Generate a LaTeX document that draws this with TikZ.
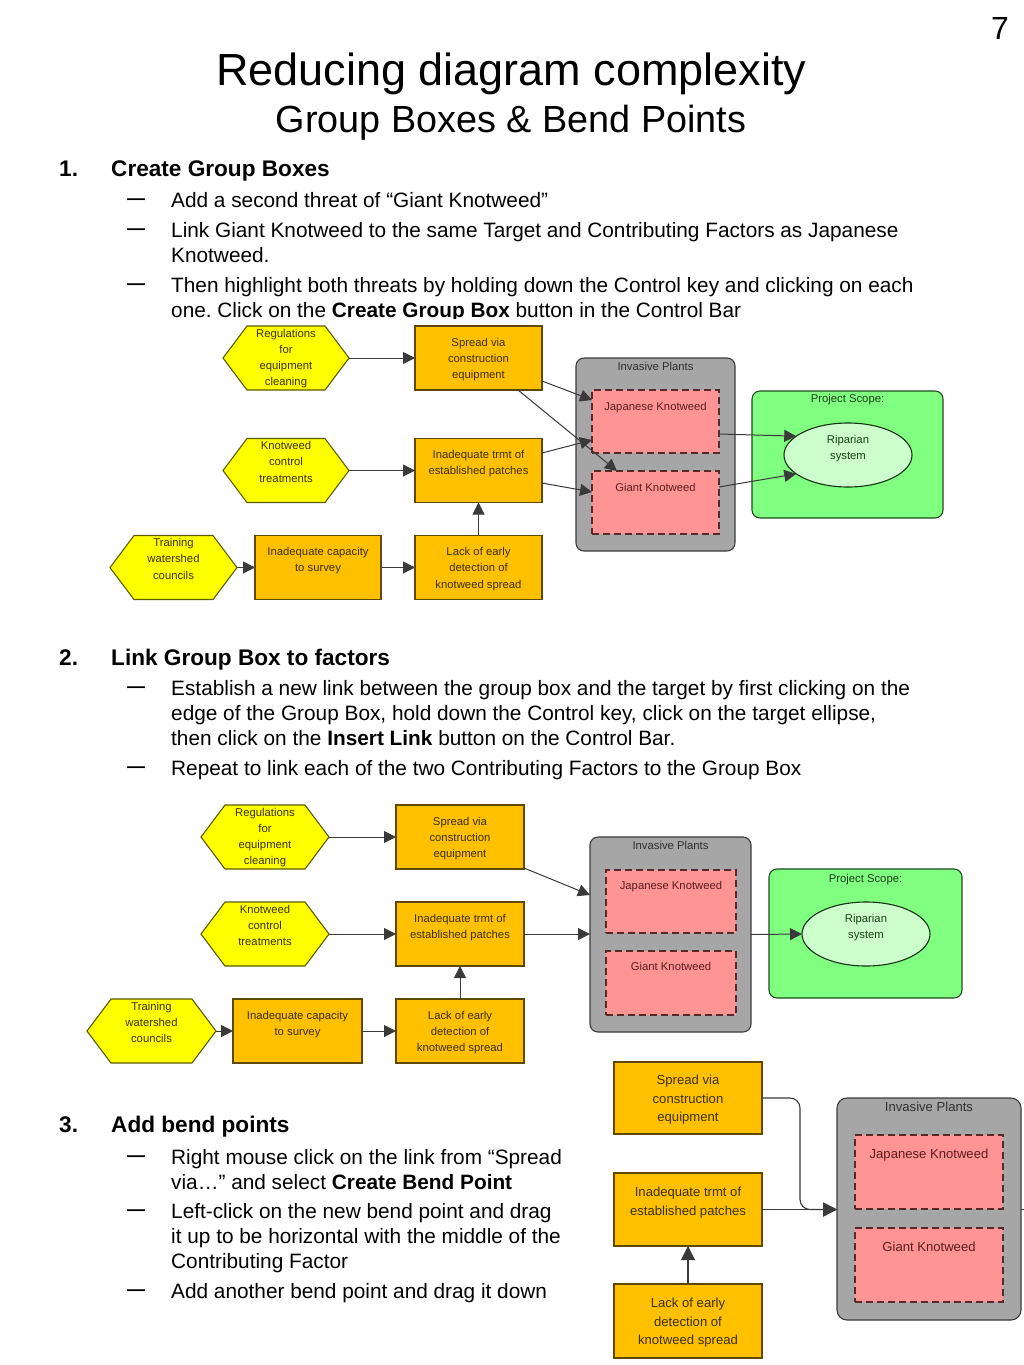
\documentclass[tikz,border=0pt]{standalone}
\usepackage{fontspec}
\setmainfont{Liberation Sans}
\usetikzlibrary{calc,arrows.meta,shapes.geometric}
\frenchspacing
\definecolor{hexfill}{HTML}{FFFF00}
\definecolor{hexline}{HTML}{5C5C00}
\definecolor{cffill}{HTML}{FFC000}
\definecolor{cfline}{HTML}{5F4800}
\definecolor{grpfill}{HTML}{A6A6A6}
\definecolor{grpline}{HTML}{3C3C3C}
\definecolor{thrfill}{HTML}{FF9494}
\definecolor{thrline}{HTML}{5A2828}
\definecolor{scfill}{HTML}{80FF80}
\definecolor{scline}{HTML}{1E4A1E}
\definecolor{ripfill}{HTML}{CCFFCC}
\definecolor{ripline}{HTML}{143214}
\definecolor{lnk}{HTML}{3A3A3A}
\definecolor{dtext}{HTML}{3B3000}
\definecolor{gtext}{HTML}{303030}
\definecolor{rtext}{HTML}{5A1E1E}
\definecolor{stext}{HTML}{1E3D1E}
\tikzset{
  hexshape/.style={fill=hexfill, draw=hexline, line width=1.1pt},
  hexbox/.style={draw=none, minimum height=64, inner sep=0pt, outer sep=0pt},
  cfbox/.style={rectangle, fill=cffill, draw=cfline, line width=1.1pt, inner sep=0pt, outer sep=0pt},
  grpbox/.style={rectangle, fill=grpfill, draw=grpline, line width=1.1pt, rounded corners=8pt, inner sep=0pt, outer sep=0pt},
  thrbox/.style={rectangle, fill=thrfill, draw=thrline, line width=1.1pt, dash pattern=on 7pt off 4pt, inner sep=0pt, outer sep=0pt},
  scbox/.style={rectangle, fill=scfill, draw=scline, line width=1.1pt, rounded corners=8pt, inner sep=0pt, outer sep=0pt},
  ripell/.style={ellipse, fill=ripfill, draw=ripline, line width=1.1pt, inner sep=0pt, outer sep=0pt},
  dl/.style={anchor=north, inner sep=0pt, align=center, text=dtext, font=\fontsize{11.3}{16.3}\selectfont},
  dlb/.style={anchor=north, inner sep=0pt, align=center, text=dtext, font=\fontsize{13.1}{18.5}\selectfont},
  lnkarrow/.style={draw=lnk, line width=1pt, -{Triangle[length=12pt,width=12pt]}},
  lnkbig/.style={draw=lnk, line width=1.1pt, -{Triangle[length=14pt,width=14pt]}},
  lnkplain/.style={draw=lnk, line width=1.1pt},
  body/.style={anchor=base west, inner sep=0pt, font=\fontsize{20.8}{25}\selectfont},
  hd/.style={anchor=base west, inner sep=0pt, font=\bfseries\fontsize{22.6}{26}\selectfont},
  dashmark/.style={anchor=base west, inner sep=0pt, font=\bfseries\fontsize{18}{20}\selectfont},
}
\newcommand{\hexagonnode}[4]{%
  \draw[hexshape] ($#2+(-#3/2,0)$) -- ++(24,-32) -- ++(#3-48,0) -- ++(24,32) -- ++(-24,32) -- ++(-#3+48,0) -- cycle;
  \node[hexbox, minimum width=#3, label={[dl,yshift=-2.7pt]north:{#4}}] (#1) at #2 {};
}
\begin{document}
\begin{tikzpicture}[x=1pt,y=-1pt]
\useasboundingbox (0,0) rectangle (1024,1365);
\fill[white] (0,0) rectangle (1024,1365);

% ---------- titles ----------
\node[anchor=base east, inner sep=0pt, font=\fontsize{32}{36}\selectfont] (pagenum) at (1009,39) {7};
\node[anchor=base, inner sep=0pt, font=\fontsize{45}{50}\selectfont] (title) at (511.5,85) {Reducing diagram complexity};
\node[anchor=base, inner sep=0pt, font=\fontsize{37.8}{42}\selectfont] (subtitle) at (511,132) {Group Boxes \& Bend Points};

% ---------- section 1 text ----------
\node[hd] (n1) at (59,176) {1.};
\node[hd] (h1) at (111,176) {Create Group Boxes};
\node[dashmark] (d1a) at (127,204) {—};
\node[body] (t1a) at (171,207) {Add a second threat of “Giant Knotweed”};
\node[dashmark] (d1b) at (127,234) {—};
\node[body] (t1b) at (171,237) {Link Giant Knotweed to the same Target and Contributing Factors as Japanese};
\node[body] (t1c) at (171,262) {Knotweed.};
\node[dashmark] (d1c) at (127,289) {—};
\node[body] (t1d) at (171,292) {Then highlight both threats by holding down the Control key and clicking on each};
\node[body] (t1e) at (171,317) {one. Click on the \textbf{Create Group Box} button in the Control Bar};

% ---------- section 2 text ----------
\node[hd] (n2) at (59,665) {2.};
\node[hd] (h2) at (111,665) {Link Group Box to factors};
\node[dashmark] (d2a) at (127,692) {—};
\node[body] (t2a) at (171,695) {Establish a new link between the group box and the target by first clicking on the};
\node[body] (t2b) at (171,720) {edge of the Group Box, hold down the Control key, click on the target ellipse,};
\node[body] (t2c) at (171,745) {then click on the \textbf{Insert Link} button on the Control Bar.};
\node[dashmark] (d2b) at (127,772) {—};
\node[body] (t2d) at (171,775) {Repeat to link each of the two Contributing Factors to the Group Box};

% ---------- section 3 text ----------
\node[hd] (n3) at (59,1132) {3.};
\node[hd] (h3) at (111,1132) {Add bend points};
\node[dashmark] (d3a) at (127,1161) {—};
\node[body] (t3a) at (171,1164) {Right mouse click on the link from “Spread};
\node[body] (t3b) at (171,1189) {via…” and select \textbf{Create Bend Point}};
\node[dashmark] (d3b) at (127,1215) {—};
\node[body] (t3c) at (171,1218) {Left-click on the new bend point and drag};
\node[body] (t3d) at (171,1243) {it up to be horizontal with the middle of the};
\node[body] (t3e) at (171,1268) {Contributing Factor};
\node[dashmark] (d3c) at (127,1295) {—};
\node[body] (t3f) at (171,1298) {Add another bend point and drag it down};

% ---------- diagram 1 ----------
\fill[white] (100,319) rectangle (960,612);
\hexagonnode{reg1}{(286,358)}{126}{Regulations\\for\\equipment\\cleaning}
\node[cfbox, minimum width=127, minimum height=64, label={[dl,yshift=-11.7pt]north:{Spread via\\construction\\equipment}}] (spr1) at (478.5,358) {};
\hexagonnode{knot1}{(286,470.5)}{126}{Knotweed\\control\\treatments}
\node[cfbox, minimum width=127, minimum height=64, label={[dl,yshift=-11.7pt]north:{Inadequate trmt of\\established patches}}] (trm1) at (478.5,470.5) {};
\hexagonnode{trn1}{(173.5,567.5)}{127}{Training\\watershed\\councils}
\node[cfbox, minimum width=126, minimum height=64, label={[dl,yshift=-11.7pt]north:{Inadequate capacity\\to survey}}] (cap1) at (318,567.5) {};
\node[cfbox, minimum width=127, minimum height=64, label={[dl,yshift=-11.7pt]north:{Lack of early\\detection of\\knotweed spread}}] (lack1) at (478.5,567.5) {};
\node[grpbox, minimum width=159, minimum height=193, label={[dl,text=gtext,yshift=-3.7pt]north:{Invasive Plants}}] (grp1) at (655.5,454.5) {};
\node[thrbox, minimum width=127, minimum height=63, label={[dl,text=rtext,yshift=-11.7pt]north:{Japanese Knotweed}}] (jap1) at (655.5,421.5) {};
\node[thrbox, minimum width=127, minimum height=63, label={[dl,text=rtext,yshift=-11.7pt]north:{Giant Knotweed}}] (gia1) at (655.5,502.5) {};
\node[scbox, minimum width=191, minimum height=127, label={[dl,text=stext,yshift=-2.7pt]north:{Project Scope:}}] (sc1) at (847.5,454.5) {};
\node[ripell, minimum width=128, minimum height=64, label={[dl,text=stext,yshift=-11.7pt]north:{Riparian\\system}}] (rip1) at (848,455) {};

\draw[lnkarrow] (reg1.east) -- (spr1.west);
\draw[lnkarrow] (knot1.east) -- (trm1.west);
\draw[lnkarrow] (trn1.east) -- (cap1.west);
\draw[lnkarrow] (cap1.east) -- (lack1.west);
\draw[lnkarrow] (lack1.north) -- (trm1.south);
\draw[lnkarrow] ($(spr1.east)+(0,23)$) -- ($(jap1.west)+(0,-21.5)$);
\draw[lnkarrow] ($(spr1.south)+(39.5,0)$) -- ($(gia1.north)+(-38.5,0)$);
\draw[lnkarrow] ($(trm1.east)+(0,-17.5)$) -- ($(jap1.west)+(0,18.5)$);
\draw[lnkarrow] ($(trm1.east)+(0,12.5)$) -- ($(gia1.west)+(0,-10.5)$);
\draw[lnkarrow] ($(jap1.east)+(0,12.5)$) -- (rip1.160);
\draw[lnkarrow] ($(gia1.east)+(0,-15.5)$) -- (rip1.200);

% ---------- diagram 2 ----------
\hexagonnode{reg2}{(265,837)}{128}{Regulations\\for\\equipment\\cleaning}
\node[cfbox, minimum width=128, minimum height=64, label={[dl,yshift=-11.7pt]north:{Spread via\\construction\\equipment}}] (spr2) at (460,837) {};
\hexagonnode{knot2}{(265,934)}{128}{Knotweed\\control\\treatments}
\node[cfbox, minimum width=128, minimum height=64, label={[dl,yshift=-11.7pt]north:{Inadequate trmt of\\established patches}}] (trm2) at (460,934) {};
\hexagonnode{trn2}{(151.5,1031)}{129}{Training\\watershed\\councils}
\node[cfbox, minimum width=129, minimum height=64, label={[dl,yshift=-11.7pt]north:{Inadequate capacity\\to survey}}] (cap2) at (297.5,1031) {};
\node[cfbox, minimum width=128, minimum height=64, label={[dl,yshift=-11.7pt]north:{Lack of early\\detection of\\knotweed spread}}] (lack2) at (460,1031) {};
\node[grpbox, minimum width=161, minimum height=195, label={[dl,text=gtext,yshift=-3.7pt]north:{Invasive Plants}}] (grp2) at (670.5,934.5) {};
\node[thrbox, minimum width=130, minimum height=63, label={[dl,text=rtext,yshift=-10.7pt]north:{Japanese Knotweed}}] (jap2) at (671,901.5) {};
\node[thrbox, minimum width=130, minimum height=64, label={[dl,text=rtext,yshift=-10.7pt]north:{Giant Knotweed}}] (gia2) at (671,983) {};
\node[scbox, minimum width=193, minimum height=129, label={[dl,text=stext,yshift=-4.7pt]north:{Project Scope:}}] (sc2) at (865.5,933.5) {};
\node[ripell, minimum width=128, minimum height=64, label={[dl,text=stext,yshift=-11.7pt]north:{Riparian\\system}}] (rip2) at (866,934) {};

\draw[lnkarrow] (reg2.east) -- (spr2.west);
\draw[lnkarrow] (knot2.east) -- (trm2.west);
\draw[lnkarrow] (trn2.east) -- (cap2.west);
\draw[lnkarrow] (cap2.east) -- (lack2.west);
\draw[lnkarrow] (lack2.north) -- (trm2.south);
\draw[lnkarrow] ($(spr2.east)+(0,31)$) -- ($(grp2.west)+(0,-39.5)$);
\draw[lnkarrow] (trm2.east) -- (trm2.east -| grp2.west);
\draw[lnkarrow] (grp2.east) -- (rip2.west);

% ---------- diagram 3 ----------
\node[cfbox, minimum width=148, minimum height=72, label={[dlb,yshift=-12.8pt]north:{Spread via\\construction\\equipment}}] (spr3) at (688,1098) {};
\node[cfbox, minimum width=148, minimum height=73, label={[dlb,yshift=-13.8pt]north:{Inadequate trmt of\\established patches}}] (trm3) at (688,1209.5) {};
\node[cfbox, minimum width=148, minimum height=74, label={[dlb,yshift=-13.8pt]north:{Lack of early\\detection of\\knotweed spread}}] (lack3) at (688,1321) {};
\node[grpbox, rounded corners=10pt, minimum width=184, minimum height=222, label={[dlb,text=gtext,yshift=-3.8pt]north:{Invasive Plants}}] (grp3) at (929,1209) {};
\node[thrbox, minimum width=148, minimum height=74, label={[dlb,text=rtext,yshift=-13.8pt]north:{Japanese Knotweed}}] (jap3) at (929,1172) {};
\node[thrbox, minimum width=148, minimum height=74, label={[dlb,text=rtext,yshift=-13.8pt]north:{Giant Knotweed}}] (gia3) at (929,1265) {};

\coordinate (bp1) at (800,1098);
\coordinate (bp2) at (800,1209.5);
\coordinate (off3) at (1032,1209.5);
\draw[lnkbig, rounded corners=10pt] (spr3.east) -- (bp1) -- (bp2) -- (trm3.east -| grp3.west);
\draw[lnkbig] (trm3.east) -- (trm3.east -| grp3.west);
\draw[lnkbig] (lack3.north) -- (trm3.south);
\draw[lnkplain] (grp3.east |- bp2) -- (off3);
\end{tikzpicture}
\end{document}
